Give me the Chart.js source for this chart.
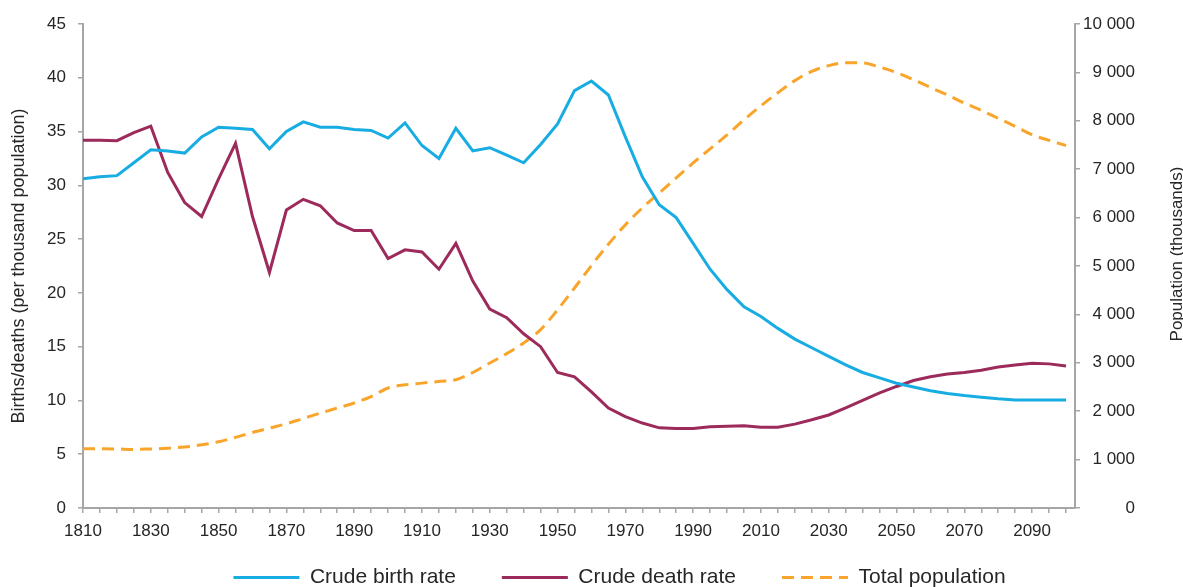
<!DOCTYPE html>
<html>
<head>
<meta charset="utf-8">
<script src="https://cdn.jsdelivr.net/npm/chart.js@4/dist/chart.umd.min.js"></script>
<style>
  html, body { margin: 0; padding: 0; background: #fff; }
  canvas { display: block; }
</style>
</head>
<body>
<canvas id="chart" width="1183" height="587"></canvas>
<script>
// years, every 5 from 1810 to 2100
const years = [
  1810, 1815, 1820, 1825, 1830, 1835, 1840, 1845, 1850, 1855,
  1860, 1865, 1870, 1875, 1880, 1885, 1890, 1895, 1900, 1905,
  1910, 1915, 1920, 1925, 1930, 1935, 1940, 1945, 1950, 1955,
  1960, 1965, 1970, 1975, 1980, 1985, 1990, 1995, 2000, 2005,
  2010, 2015, 2020, 2025, 2030, 2035, 2040, 2045, 2050, 2055,
  2060, 2065, 2070, 2075, 2080, 2085, 2090, 2095, 2100
];

// per thousand population
const birthRate = [
  30.6, 30.8, 30.9, 32.1, 33.3, 33.2, 33.0, 34.5, 35.4, 35.3,
  35.2, 33.4, 35.0, 35.9, 35.4, 35.4, 35.2, 35.1, 34.4, 35.8,
  33.7, 32.5, 35.3, 33.2, 33.5, 32.8, 32.1, 33.8, 35.7, 38.8,
  39.7, 38.4, 34.5, 30.8, 28.2, 27.0, 24.6, 22.2, 20.3, 18.7,
  17.8, 16.7, 15.7, 14.9, 14.1, 13.3, 12.6, 12.1, 11.6, 11.25,
  10.9, 10.65, 10.45, 10.3, 10.15, 10.05, 10.05, 10.05, 10.05
];

const deathRate = [
  34.2, 34.2, 34.15, 34.9, 35.5, 31.2, 28.4, 27.1, 30.6, 33.9,
  27.1, 21.9, 27.7, 28.7, 28.1, 26.5, 25.8, 25.8, 23.2, 24.0,
  23.8, 22.2, 24.6, 21.1, 18.5, 17.7, 16.2, 15.0, 12.6, 12.2,
  10.8, 9.3, 8.5, 7.9, 7.45, 7.4, 7.4, 7.55, 7.6, 7.65,
  7.5, 7.5, 7.8, 8.2, 8.65, 9.3, 10.0, 10.7, 11.3, 11.85,
  12.2, 12.45, 12.6, 12.8, 13.1, 13.3, 13.45, 13.4, 13.2
];

// thousands
const population = [
  1225, 1225, 1220, 1210, 1220, 1235, 1260, 1305, 1370, 1460,
  1560, 1650, 1740, 1850, 1960, 2065, 2170, 2300, 2480, 2545,
  2580, 2615, 2650, 2800, 2995, 3190, 3410, 3685, 4095, 4545,
  5010, 5450, 5850, 6200, 6510, 6820, 7130, 7420, 7710, 8020,
  8310, 8580, 8830, 9020, 9140, 9200, 9195, 9110, 8995, 8850,
  8690, 8535, 8365, 8215, 8050, 7885, 7710, 7595, 7490
];

const FONT = "'Liberation Sans', Arial, sans-serif";
const TEXT = "#262626";
const AXIS = "#a6a6a6";

function pairs(values) {
    return years.map((yr, i) => ({ x: yr, y: values[i] }));
}

function spaced(v) {
    return String(v).replace(/\B(?=(\d{3})+(?!\d))/g, " ");
}

// the right axis title reads bottom-up, so draw it by hand
const rightTitle = {
    id: "rightTitle",
    afterDraw(chart) {
        const ctx = chart.ctx;
        const area = chart.chartArea;
        ctx.save();
        ctx.font = "17px " + FONT;
        ctx.fillStyle = TEXT;
        ctx.textAlign = "center";
        ctx.textBaseline = "middle";
        ctx.translate(chart.scales.y1.right + 42, (area.top + area.bottom) / 2 - 12);
        ctx.rotate(-Math.PI / 2);
        ctx.fillText("Population (thousands)", 0, 0);
        ctx.restore();
    }
};

// nudge the legend to where the original sits
const legendShift = {
    id: "legendShift",
    afterLayout(chart) {
        const lg = chart.legend;
        lg.left += 52; lg.right += 52;
        lg.top -= 27; lg.bottom -= 27;
    }
};

const axisGrid = {
    display: true,
    drawOnChartArea: false,
    drawTicks: true,
    tickLength: 5,
    color: AXIS,
    lineWidth: 1.5
};

const chart = new Chart(document.getElementById("chart").getContext("2d"), {
    type: "line",
    data: {
        datasets: [{
            label: "Crude birth rate",
            data: pairs(birthRate),
            borderColor: "#17ade2",
            backgroundColor: "#17ade2",
            borderWidth: 3,
            pointRadius: 0,
            tension: 0,
            yAxisID: "y"
        },
        {
            label: "Crude death rate",
            data: pairs(deathRate),
            borderColor: "#9c2b5b",
            backgroundColor: "#9c2b5b",
            borderWidth: 3,
            pointRadius: 0,
            tension: 0,
            yAxisID: "y"
        },
        {
            label: "Total population",
            data: pairs(population),
            borderColor: "#f9a52b",
            backgroundColor: "#f9a52b",
            borderWidth: 3,
            borderDash: [12, 7],
            pointRadius: 0,
            cubicInterpolationMode: "monotone",
            yAxisID: "y1"
        }]
    },
    options: {
        responsive: false,
        animation: false,
        layout: { padding: { top: 24, right: 48, left: 0, bottom: -38 } },
        plugins: {
            tooltip: { enabled: false },
            legend: {
                position: "bottom",
                labels: {
                    usePointStyle: true,
                    pointStyle: "line",
                    pointStyleWidth: 66,
                    padding: 46,
                    color: TEXT,
                    font: { family: FONT, size: 21 },
                    // keep the dataset's dash and width in the legend line
                    generateLabels: function(c) {
                        const items = Chart.defaults.plugins.legend.labels.generateLabels(c);
                        items.forEach(it => {
                            const ds = c.data.datasets[it.datasetIndex];
                            it.strokeStyle = ds.borderColor;
                            it.lineWidth = 3;
                            it.lineDash = ds.borderDash || [];
                        });
                        return items;
                    }
                }
            }
        },
        scales: {
            x: {
                type: "linear",
                min: 1810,
                max: 2102.65,
                grid: axisGrid,
                border: { color: AXIS, width: 2 },
                afterFit: s => { s.height = 40; },
                ticks: {
                    stepSize: 5,
                    includeBounds: false,
                    autoSkip: false,
                    maxRotation: 0,
                    padding: 8,
                    color: TEXT,
                    font: { family: FONT, size: 17 },
                    callback: v => ((v - 1810) % 20 === 0 ? String(v) : "")
                }
            },
            y: {
                position: "left",
                min: 0,
                max: 45,
                grid: axisGrid,
                border: { color: AXIS, width: 2 },
                afterFit: s => { s.width = 83; },
                ticks: {
                    stepSize: 5,
                    padding: 12,
                    color: TEXT,
                    font: { family: FONT, size: 17 }
                },
                title: {
                    display: true,
                    text: "Births/deaths (per thousand population)",
                    color: TEXT,
                    padding: { top: 8, bottom: 0 },
                    font: { family: FONT, size: 18 }
                }
            },
            y1: {
                position: "right",
                min: 0,
                max: 10000,
                grid: axisGrid,
                border: { color: AXIS, width: 2 },
                afterFit: s => { s.width = 60; },
                ticks: {
                    stepSize: 1000,
                    padding: 1,
                    crossAlign: "far",
                    color: TEXT,
                    font: { family: FONT, size: 17 },
                    callback: v => spaced(v)
                }
            }
        }
    },
    plugins: [rightTitle, legendShift]
});
</script>
</body>
</html>
